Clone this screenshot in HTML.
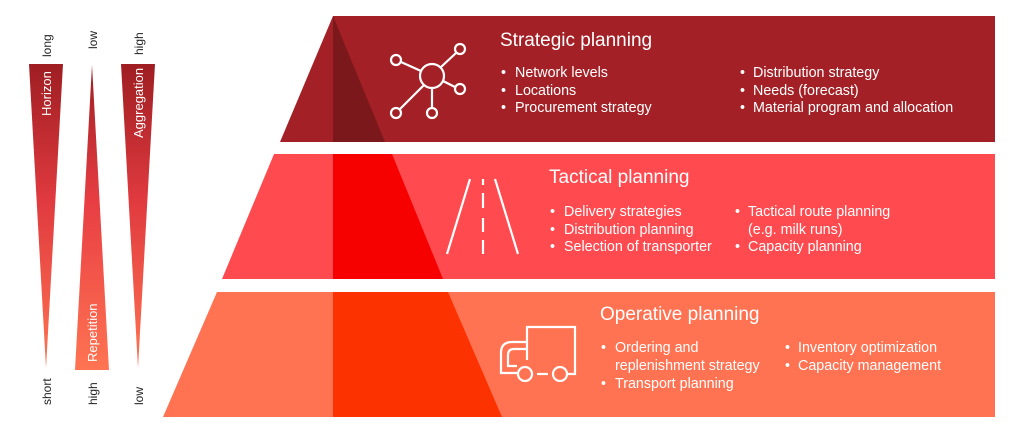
<!DOCTYPE html>
<html><head><meta charset="utf-8"><style>
html,body{margin:0;padding:0;background:#fff;}
svg{display:block;font-family:"Liberation Sans",Arial,sans-serif;}
</style></head><body>
<svg width="1024" height="435" viewBox="0 0 1024 435" xmlns="http://www.w3.org/2000/svg">
<defs>
<linearGradient id="g1" x1="0" y1="0" x2="0" y2="1">
<stop offset="0" stop-color="#9e1e22"/><stop offset="0.45" stop-color="#e03a3f"/><stop offset="1" stop-color="#ff7452"/>
</linearGradient>
<linearGradient id="g2" x1="0" y1="0" x2="0" y2="1">
<stop offset="0" stop-color="#9e1e22"/><stop offset="0.45" stop-color="#e83e43"/><stop offset="1" stop-color="#ff7452"/>
</linearGradient>
</defs>
<polygon points="29,64 63,64 46,368" fill="url(#g1)"/>
<polygon points="92,65 109,370 75,370" fill="url(#g2)"/>
<polygon points="121,64 155,64 138,368" fill="url(#g1)"/>
<g font-size="13" fill="#fff">
<text transform="translate(51,116) rotate(-90)">Horizon</text>
<text transform="translate(97,362) rotate(-90)">Repetition</text>
<text transform="translate(143,138) rotate(-90)">Aggregation</text>
</g>
<g font-size="12" fill="#222">
<text transform="translate(51,57) rotate(-90)">long</text>
<text transform="translate(97,49) rotate(-90)">low</text>
<text transform="translate(143,55) rotate(-90)">high</text>
<text transform="translate(51,405) rotate(-90)">short</text>
<text transform="translate(97,405) rotate(-90)">high</text>
<text transform="translate(143,405) rotate(-90)">low</text>
</g>
<polygon points="333,16 995,16 995,142 280,142" fill="#a32126"/>
<polygon points="333,16 385,142 333,142" fill="#7a181b"/>
<polygon points="274,154 995,154 995,279 222,279" fill="#ff4a4f"/>
<polygon points="333,154 392,154 443,279 333,279" fill="#f70000"/>
<polygon points="217,292 995,292 995,417 163,417" fill="#ff7252"/>
<polygon points="333,292 448,292 502,417 333,417" fill="#fc3300"/>
<g stroke="#fff" stroke-width="2.2" fill="none">
<circle cx="432" cy="76" r="12"/>
<line x1="401" y1="62" x2="421" y2="71"/><circle cx="396" cy="60" r="5"/>
<line x1="441" y1="67" x2="456" y2="53"/><circle cx="460" cy="49" r="5"/>
<line x1="443" y1="81" x2="455" y2="87"/><circle cx="460" cy="89" r="5"/>
<line x1="424" y1="85" x2="400" y2="109"/><circle cx="396" cy="113" r="5"/>
<line x1="432" y1="88" x2="432" y2="108"/><circle cx="432" cy="113" r="5"/>
</g>
<g stroke="#fff" stroke-width="2.2" fill="none">
<line x1="470" y1="179" x2="447" y2="254"/>
<line x1="495" y1="179" x2="518" y2="254"/>
<line x1="483" y1="179" x2="483" y2="185"/>
<line x1="483" y1="193" x2="483" y2="208"/>
<line x1="483" y1="218" x2="483" y2="232"/>
<line x1="483" y1="240" x2="483" y2="254"/>
</g>
<g stroke="#fff" stroke-width="2.2" fill="none">
<path d="M527,360 V327 H575 V374 H567"/>
<path d="M527,342 H512 Q501,342 501,353 V373 H517"/>
<path d="M527,349 H514 Q508,349 508,355 V366 H517"/>
<circle cx="525" cy="374" r="7"/>
<circle cx="560" cy="374" r="7"/>
<line x1="537" y1="374" x2="548" y2="374"/>
</g>
<g fill="#fff">
<text x="500" y="46" font-size="19">Strategic planning</text>
<g font-size="14.3">
<text x="501" y="77">•</text><text x="515" y="77">Network levels</text>
<text x="501" y="95">•</text><text x="515" y="95">Locations</text>
<text x="501" y="112">•</text><text x="515" y="112">Procurement strategy</text>
<text x="740" y="77">•</text><text x="753" y="77">Distribution strategy</text>
<text x="740" y="95">•</text><text x="753" y="95">Needs (forecast)</text>
<text x="740" y="112">•</text><text x="753" y="112">Material program and allocation</text>
</g>
<text x="549" y="183" font-size="19">Tactical planning</text>
<g font-size="14.3">
<text x="550" y="216">•</text><text x="564" y="216">Delivery strategies</text>
<text x="550" y="234">•</text><text x="564" y="234">Distribution planning</text>
<text x="550" y="251">•</text><text x="564" y="251">Selection of transporter</text>
<text x="735" y="216">•</text><text x="748" y="216">Tactical route planning</text>
<text x="748" y="234">(e.g. milk runs)</text>
<text x="735" y="251">•</text><text x="748" y="251">Capacity planning</text>
</g>
<text x="600" y="320" font-size="19">Operative planning</text>
<g font-size="14.3">
<text x="601" y="352">•</text><text x="615" y="352">Ordering and</text>
<text x="615" y="370">replenishment strategy</text>
<text x="601" y="388">•</text><text x="615" y="388">Transport planning</text>
<text x="785" y="352">•</text><text x="798" y="352">Inventory optimization</text>
<text x="785" y="370">•</text><text x="798" y="370">Capacity management</text>
</g>
</g>
</svg>
</body></html>
